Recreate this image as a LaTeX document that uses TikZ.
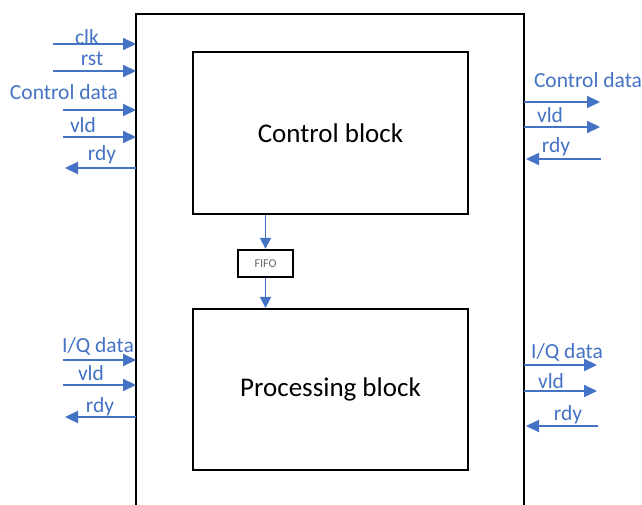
\documentclass[tikz,border=0pt]{standalone}
\usepackage{fontspec}
\setmainfont{Carlito}
\usetikzlibrary{arrows.meta}
\definecolor{sigblue}{HTML}{4472C4}
\begin{document}
\begin{tikzpicture}[x=1pt,y=-1pt,
  sig/.style={draw=sigblue,line width=2.2pt,-{Triangle[length=13pt,width=12pt]}},
  siglbl/.style={text=sigblue,font=\fontsize{21.5}{23}\selectfont,inner sep=0pt,anchor=base},
  blockbox/.style={draw=black,line width=2.2pt,fill=white},
  blocktext/.style={font=\fontsize{27}{30}\selectfont},
  fifobox/.style={draw=black,line width=2.4pt,fill=white,minimum width=55pt,minimum height=27pt,inner sep=0pt,font=\fontsize{12}{13}\selectfont,text=black!60}]
\useasboundingbox (0,0) rectangle (642,505);
% outer module frame (open at the bottom)
\draw[line width=2.4pt] (136,520) -- (136,14) -- (524,14) -- (524,520);
% inner blocks
\node[blockbox,minimum width=275pt,minimum height=162pt,inner sep=0pt,blocktext] (ctrl) at (330.5,133) {Control block};
\node[fifobox] (fifo) at (265.5,263.5) {FIFO};
\node[blockbox,minimum width=275pt,minimum height=161pt,inner sep=0pt,blocktext] (proc) at (330.5,389.5) {Processing block};
\draw[sig,line width=1.8pt,-{Triangle[length=11pt,width=11pt]}] (ctrl.south -| fifo.north) -- (fifo.north);
\draw[sig,line width=1.8pt,-{Triangle[length=11pt,width=11pt]}] (fifo.south) -- (fifo.south |- proc.north);

% left side, control port
\coordinate (clkA) at (53,44);   \coordinate (clkB) at (136,44);
\coordinate (rstA) at (53,71);   \coordinate (rstB) at (136,71);
\coordinate (cdA) at (63,110);   \coordinate (cdB) at (136,110);
\coordinate (vlA) at (63,137);   \coordinate (vlB) at (136,137);
\coordinate (rdA) at (65,168);   \coordinate (rdB) at (136,168);
\draw[sig] (clkA) -- (clkB);
\draw[sig] (rstA) -- (rstB);
\draw[sig] (cdA) -- (cdB);
\draw[sig] (vlA) -- (vlB);
\draw[sig] (rdB) -- (rdA);
\node[siglbl] (lclk) at (87,45) {clk};
\node[siglbl] (lrst) at (92,66) {rst};
\node[siglbl] (lcd) at (64,100) {Control data};
\node[siglbl] (lvl) at (83,133) {vld};
\node[siglbl] (lrd) at (102,161) {rdy};

% right side, control port
\coordinate (rcdA) at (524,102);  \coordinate (rcdB) at (600,102);
\coordinate (rvlA) at (524,127);  \coordinate (rvlB) at (600,127);
\coordinate (rrdA) at (526,159);  \coordinate (rrdB) at (601,159);
\draw[sig] (rcdA) -- (rcdB);
\draw[sig] (rvlA) -- (rvlB);
\draw[sig] (rrdB) -- (rrdA);
\node[siglbl] (rlcd) at (588,88) {Control data};
\node[siglbl] (rlvl) at (550,123) {vld};
\node[siglbl] (rlrd) at (556,153) {rdy};

% left side, I/Q port
\coordinate (iqA) at (63,360);   \coordinate (iqB) at (136,360);
\coordinate (ivA) at (63,385);   \coordinate (ivB) at (136,385);
\coordinate (irA) at (65,417);   \coordinate (irB) at (136,417);
\draw[sig] (iqA) -- (iqB);
\draw[sig] (ivA) -- (ivB);
\draw[sig] (irB) -- (irA);
\node[siglbl] (liq) at (98,352) {I/Q data};
\node[siglbl] (liv) at (91,380) {vld};
\node[siglbl] (lir) at (100,412) {rdy};

% right side, I/Q port
\coordinate (riqA) at (524,365);  \coordinate (riqB) at (597,365);
\coordinate (rivA) at (524,391);  \coordinate (rivB) at (597,391);
\coordinate (rirA) at (526,426);  \coordinate (rirB) at (598,426);
\draw[sig] (riqA) -- (riqB);
\draw[sig] (rivA) -- (rivB);
\draw[sig] (rirB) -- (rirA);
\node[siglbl] (rliq) at (567,358) {I/Q data};
\node[siglbl] (rliv) at (551,388) {vld};
\node[siglbl] (rlir) at (568,420) {rdy};
\end{tikzpicture}
\end{document}
